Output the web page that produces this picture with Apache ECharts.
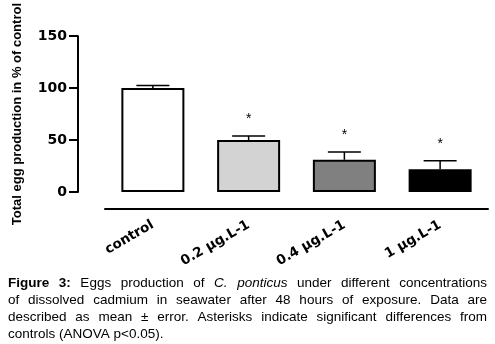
<!DOCTYPE html>
<html>
<head>
<meta charset="utf-8">
<script src="https://cdn.jsdelivr.net/npm/echarts@6/dist/echarts.min.js"></script>
<style>
  html, body { margin: 0; padding: 0; background: #fff; }
  #chart { width: 495px; height: 344px; }
</style>
</head>
<body>
<div id="chart"></div>
<script>
const categories = ["control", "0.2 μg.L-1", "0.4 μg.L-1", "1 μg.L-1"];
const means = [100, 50, 31, 22];
const errors = [2.5, 4, 7.5, 8];
const signif = ["", "*", "*", "*"];
const barColors = ["#ffffff", "#d3d3d3", "#808080", "#000000"];
const yMin = 0, yMax = 150, yStep = 50;
const yTitle = "Total egg production in % of control";
const captionLines = [
  [["Figure 3:", "bold"], ["Eggs production of", "normal"], ["C. ponticus", "italic"], ["under different concentrations", "normal"]],
  [["of dissolved cadmium in seawater after 48 hours of exposure. Data are", "normal"]],
  [["described as mean ± error. Asterisks indicate significant differences from", "normal"]],
  [["controls (ANOVA p<0.05).", "normal"]]
];

const chart = echarts.init(document.getElementById("chart"));

// caption: justified lines, word by word
const capFont = "Liberation Sans, Arial, sans-serif";
const capSize = 13.5;
const capLeft = 8, capRight = 487, capTop = 283, capStep = 17;
const ctx = document.createElement("canvas").getContext("2d");
function fontOf(kind) {
  const w = kind === "bold" ? "bold " : "";
  const s = kind === "italic" ? "italic " : "";
  return s + w + capSize + "px " + capFont;
}
const captionGraphics = [];
captionLines.forEach((line, li) => {
  const words = [];
  line.forEach(([txt, kind]) => {
    txt.split(" ").forEach(w => {
      ctx.font = fontOf(kind);
      words.push({ w, kind, width: ctx.measureText(w).width });
    });
  });
  const total = words.reduce((s, d) => s + d.width, 0);
  ctx.font = fontOf("normal");
  const last = li === captionLines.length - 1;
  const gap = last ? ctx.measureText(" ").width : (capRight - capLeft - total) / (words.length - 1);
  let x = capLeft;
  words.forEach(d => {
    captionGraphics.push({
      type: "text",
      x: x,
      y: capTop + li * capStep,
      style: {
        text: d.w,
        fill: "#000",
        fontFamily: capFont,
        fontSize: capSize,
        fontWeight: d.kind === "bold" ? "bold" : "normal",
        fontStyle: d.kind === "italic" ? "italic" : "normal",
        textVerticalAlign: "middle"
      }
    });
    x += d.width + gap;
  });
});

chart.setOption({
  backgroundColor: "#fff",
  animation: false,
  grid: { left: 105, right: 7, top: 36, bottom: 152 },
  xAxis: {
    type: "category",
    data: categories,
    offset: 17,
    axisLine: { onZero: false, lineStyle: { color: "#000", width: 2 } },
    axisTick: { alignWithLabel: true, length: 5, lineStyle: { color: "#000", width: 2 } },
    axisLabel: {
      interval: 0,
      rotate: 30,
      margin: 15,
      color: "#000",
      fontFamily: "DejaVu Sans",
      fontWeight: "bold",
      fontSize: 13.5
    }
  },
  yAxis: {
    type: "value",
    min: yMin,
    max: yMax,
    interval: yStep,
    offset: 27,
    name: yTitle,
    nameLocation: "middle",
    nameRotate: 90,
    nameGap: 54,
    nameTextStyle: {
      color: "#000",
      fontFamily: "Liberation Sans",
      fontWeight: "bold",
      fontSize: 13
    },
    axisLine: { show: true, onZero: false, lineStyle: { color: "#000", width: 2 } },
    axisTick: { show: true, length: 9, lineStyle: { color: "#000", width: 2 } },
    axisLabel: {
      margin: 11,
      color: "#000",
      fontFamily: "DejaVu Sans",
      fontWeight: "bold",
      fontSize: 14
    },
    splitLine: { show: false }
  },
  series: [
    {
      type: "bar",
      barWidth: 63,
      data: means.map((v, i) => ({ value: v, itemStyle: { color: barColors[i] } })),
      itemStyle: { borderColor: "#000", borderWidth: 2 }
    },
    {
      type: "custom",
      z: 3,
      data: means.map((m, i) => [i, m, m + errors[i]]),
      encode: { x: 0, y: [1, 2] },
      renderItem: function (params, api) {
        const base = api.coord([api.value(0), api.value(1)]);
        const top = api.coord([api.value(0), api.value(2)]);
        const half = 16.5;
        const ls = { stroke: "#000", lineWidth: 1.5 };
        const kids = [
          { type: "line", shape: { x1: base[0], y1: base[1], x2: base[0], y2: top[1] }, style: ls },
          { type: "line", shape: { x1: base[0] - half, y1: top[1], x2: base[0] + half, y2: top[1] }, style: ls }
        ];
        const mark = signif[params.dataIndex];
        if (mark) {
          kids.push({
            type: "text",
            x: base[0],
            y: top[1] - 17,
            style: {
              text: mark,
              fill: "#000",
              fontFamily: "Liberation Sans",
              fontSize: 14,
              textAlign: "center",
              textVerticalAlign: "middle"
            }
          });
        }
        return { type: "group", children: kids };
      }
    }
  ],
  graphic: captionGraphics
});
</script>
</body>
</html>
